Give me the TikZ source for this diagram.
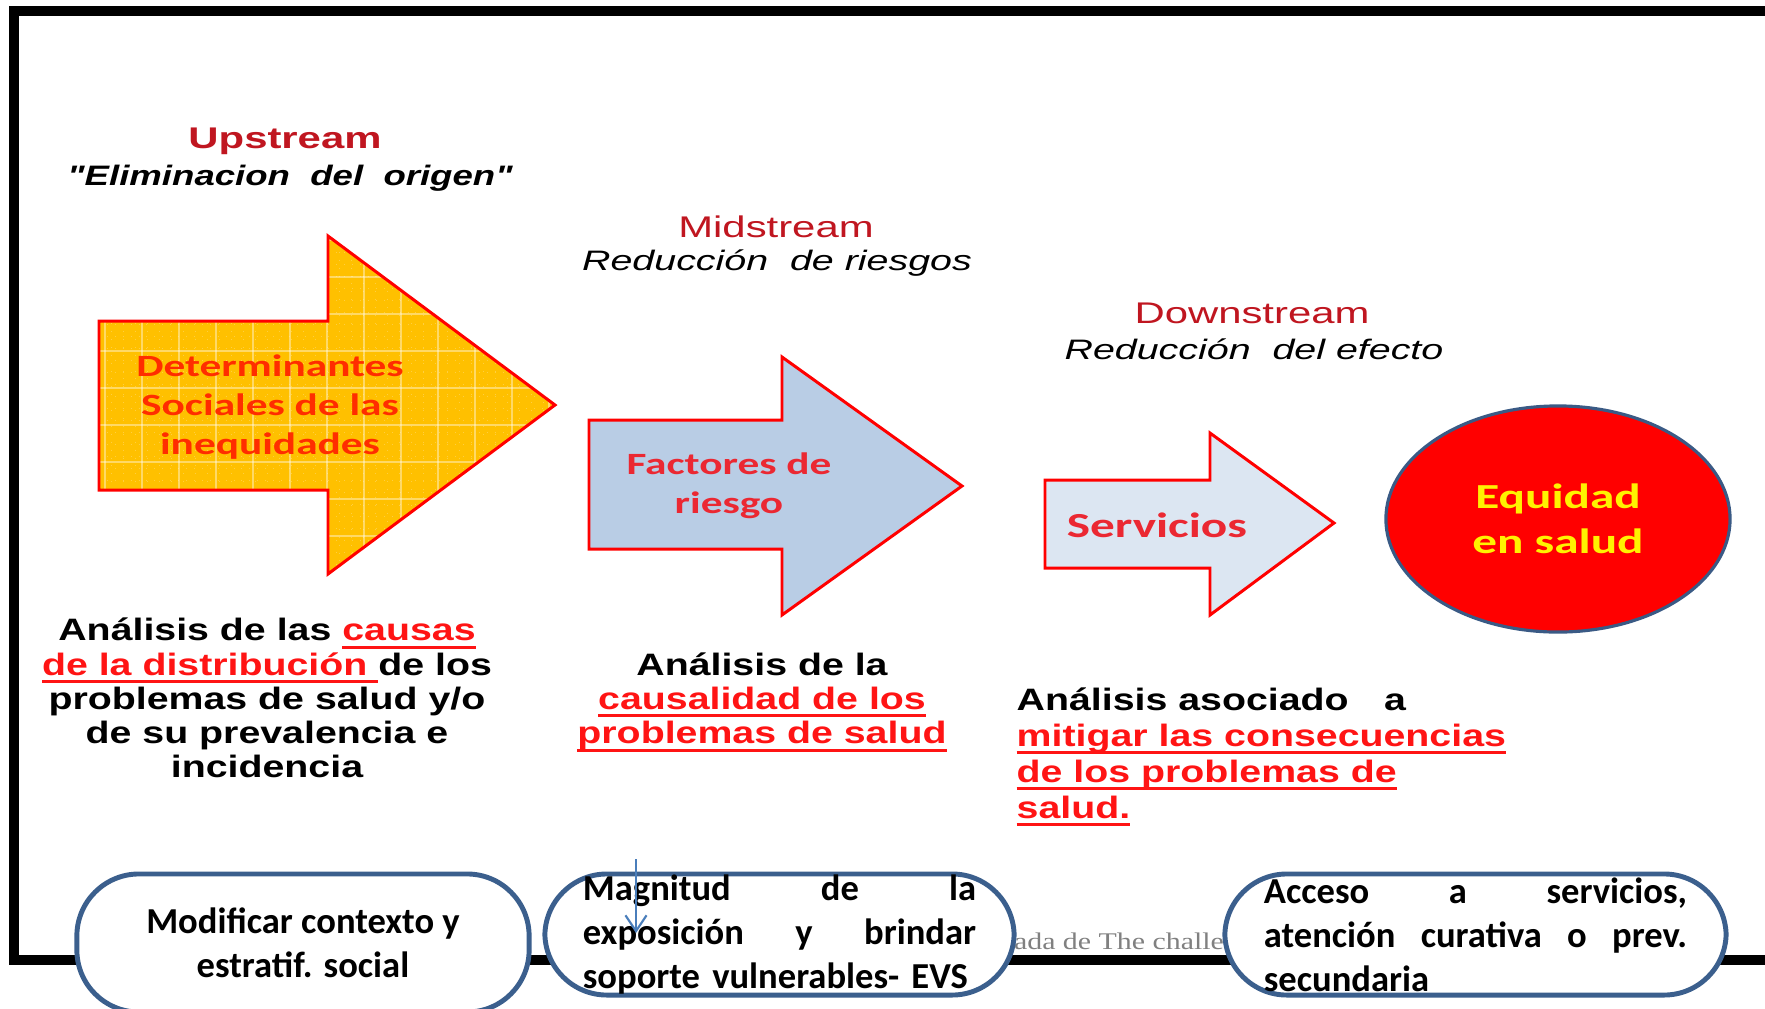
\documentclass[tikz,border=0pt]{standalone}
\usepackage{fontspec}
\usetikzlibrary{shapes.geometric,arrows.meta}
\setmainfont{Liberation Sans}
\newfontfamily\headfont[FakeStretch=1.4]{Liberation Sans}
\newfontfamily\upsubfont[FakeStretch=1.3]{Liberation Sans}
\newfontfamily\analfont[FakeStretch=1.27]{Liberation Sans}
\newfontfamily\shapefont[FakeStretch=1.4]{Carlito}
\newfontfamily\boxfont{Carlito}
\newfontfamily\srcfont[FakeStretch=1.25]{Liberation Serif}
\definecolor{headred}{RGB}{192,22,32}
\definecolor{ulred}{RGB}{255,20,20}
\definecolor{detred}{RGB}{255,45,0}
\definecolor{factred}{RGB}{235,40,50}
\definecolor{amarillo}{RGB}{255,192,0}
\definecolor{azul}{RGB}{185,205,229}
\definecolor{celeste}{RGB}{220,230,242}
\definecolor{elborde}{RGB}{58,90,133}
\definecolor{cajaazul}{RGB}{59,95,141}
\definecolor{flechaazul}{RGB}{74,126,187}
\newcommand\redul[1]{\textcolor{ulred}{\setbox0\hbox{#1}\rlap{\rule[-2.2pt]{\wd0}{0.8pt}}\box0}}

\begin{document}
\begin{tikzpicture}[x=0.01cm,y=-0.01cm,
  streamhead/.style={text=headred,font=\headfont\fontsize{8.5}{10}\selectfont},
  streamsub/.style={font=\headfont\itshape\fontsize{8}{10}\selectfont},
  flecha/.style={draw=red,line width=0.85pt,line join=miter},
  gridline/.style={white,opacity=.4,line width=.4pt},
  finegrid/.style={white,opacity=.25,line width=.25pt,dotted},
  arrowtext/.style={align=center,text=detred,font=\shapefont\bfseries\fontsize{8.8}{11.2}\selectfont},
  analisis/.style={align=center,inner sep=0pt,font=\analfont\bfseries\fontsize{8.8}{9.7}\selectfont},
  fuente/.style={text=black!50,font=\srcfont\fontsize{6.8}{8}\selectfont},
  caja/.style={draw=cajaazul,line width=1.4pt,fill=white,rounded corners=0.62cm,inner sep=0pt,
    font=\boxfont\bfseries\fontsize{10.4}{12.5}\selectfont},
  cajatexto/.style={inner sep=0pt,font=\boxfont\bfseries\fontsize{10.4}{12.5}\selectfont},
  flechita/.style={flechaazul,line width=0.6pt,-{Straight Barb[length=4.5pt,width=6pt]}}]
  \useasboundingbox (0,0) rectangle (1765,1008);
  \fill[white] (0,0) rectangle (1765,1008);

  % marco
  \draw[line width=2.6pt] (1765,11) -- (14,11) -- (14,960) -- (1765,960);

  % titulos
  \node[streamhead,font=\headfont\bfseries\fontsize{8.5}{10}\selectfont] (up) at (285,141) {Upstream};
  \node[streamsub,font=\upsubfont\bfseries\itshape\fontsize{8}{10}\selectfont] (upsub) at (290,178) {"Eliminacion~ del~ origen"};
  \node[streamhead] (mid) at (776,227) {Midstream};
  \node[streamsub] (midsub) at (777,263) {Reducción~ de riesgos};
  \node[streamhead] (down) at (1252,313) {Downstream};
  \node[streamsub] (downsub) at (1254,349) {Reducción~ del efecto};

  % flecha amarilla
  \begin{scope}
    \clip (99,321) -- (328,321) -- (328,236) -- (555,405) -- (328,574) -- (328,490) -- (99,490) -- cycle;
    \fill[amarillo] (99,236) rectangle (555,574);
    \foreach \gx in {111,123,...,555} \draw[finegrid] (\gx,236) -- (\gx,574);
    \foreach \gy in {240,252,...,574} \draw[finegrid] (99,\gy) -- (555,\gy);
    \foreach \gx in {105,142,...,555} \draw[gridline] (\gx,236) -- (\gx,574);
    \foreach \gy in {240,277,...,574} \draw[gridline] (99,\gy) -- (555,\gy);
  \end{scope}
  \draw[flecha] (99,321) -- (328,321) -- (328,236) -- (555,405) -- (328,574) -- (328,490) -- (99,490) -- cycle;
  \draw[flecha,fill=azul] (589,420) -- (782,420) -- (782,357) -- (962,486) -- (782,615) -- (782,549) -- (589,549) -- cycle;
  \draw[flecha,fill=celeste] (1045,480) -- (1210,480) -- (1210,433) -- (1334,523) -- (1210,615) -- (1210,568) -- (1045,568) -- cycle;

  \node[arrowtext] (determ) at (270,407) {Determinantes\\ Sociales de las\\ inequidades};
  \node[arrowtext,text=factred] (factores) at (729,486) {Factores de\\ riesgo};
  \node[arrowtext,text=factred,font=\shapefont\bfseries\fontsize{10}{12}\selectfont] (servicios) at (1157,525) {Servicios};
  \node[ellipse,draw=elborde,line width=0.9pt,fill=red,minimum width=3.44cm,minimum height=2.26cm,
    inner sep=0pt,align=center,text=yellow,font=\shapefont\bfseries\fontsize{10}{12.8}\selectfont]
    (equidad) at (1558,519) {Equidad\\ en salud};

  % analisis
  \node[analisis] (causas) at (267,698) {Análisis de las \redul{causas}\\ \redul{de la distribución }de los\\
    problemas de salud y/o\\ de su prevalencia e\\ incidencia};
  \node[analisis,font=\analfont\bfseries\fontsize{8.8}{9.8}\selectfont] (causalidad) at (762,702)
    {Análisis de la\\ \redul{causalidad de los}\\ \redul{problemas de salud}};
  \node[analisis,align=left,anchor=west,font=\analfont\bfseries\fontsize{8.8}{10.2}\selectfont] (mitigar) at (1016,757)
    {Análisis asociado\hspace{7pt} a\\ \redul{mitigar las consecuencias}\\ \redul{de los problemas de}\\ \redul{salud.}};

  \node[fuente] (fuente) at (1119,941) {ada de The challe};

  % cajas
  \node[caja,minimum width=4.52cm,minimum height=1.38cm] (modificar) at (303,943) {};
  \node[cajatexto,align=center] (modtexto) at (303,943) {Modificar contexto y\\ estratif. social};
  \node[caja,minimum width=4.69cm,minimum height=1.21cm,text width=3.93cm,align=left] (magnitud) at (779.5,934.5)
    {Magnitud\hfill de\hfill la\\ exposición\hfill y\hfill brindar\\ \mbox{soporte vulnerables- EVS}};
  \node[caja,minimum width=5.01cm,minimum height=1.21cm,text width=4.23cm,align=left] (acceso) at (1475.5,934.5)
    {Acceso\hfill a\hfill servicios,\\ atención\hfill curativa\hfill o\hfill prev.\\ secundaria};

  \coordinate (flechaarriba) at (636,859);
  \coordinate (flechaabajo) at (636,933);
  \draw[flechita] (flechaarriba) -- (flechaabajo);
\end{tikzpicture}
\end{document}
